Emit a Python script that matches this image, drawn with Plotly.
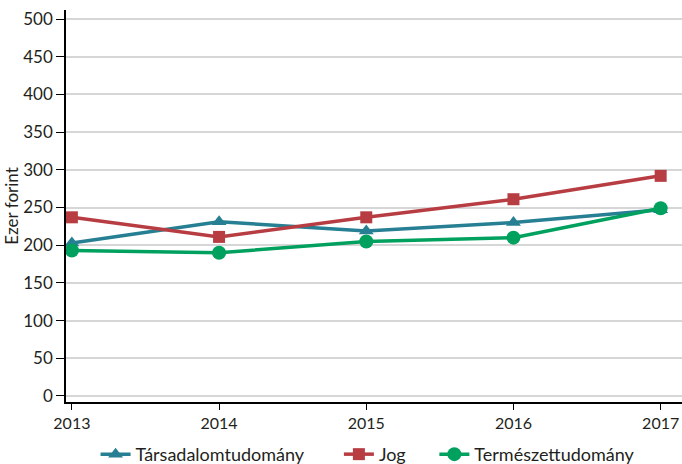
import plotly.graph_objects as go

years = [2013, 2014, 2015, 2016, 2017]
tarsadalom = [203, 231, 219, 230, 247]
jog = [237, 211, 237, 261, 292]
termeszet = [193, 190, 205, 210, 249]

series = [
    ("Társadalomtudomány", tarsadalom, "#267f92", "triangle-up", 13),
    ("Jog", jog, "#b73d43", "square", 12),
    ("Természettudomány", termeszet, "#00a05e", "circle", 14),
]

# each series gets its own legend box so the entries can be spaced freely
legend_ids = ["legend", "legend2", "legend3"]
legend_x = [0.048, 0.443, 0.598]

fig = go.Figure()
for (name, vals, color, symbol, size), lid in zip(series, legend_ids):
    fig.add_trace(go.Scatter(
        x=years, y=vals, name=name, mode="lines+markers",
        line=dict(color=color, width=3.5),
        marker=dict(symbol=symbol, size=size, color=color),
        legend=lid,
    ))

font_family = "Lato"
legend_common = dict(orientation="h", xanchor="left", y=-0.181, yanchor="bottom",
                     font=dict(size=18), bgcolor="rgba(0,0,0,0)")
fig.update_layout(
    width=682, height=464,
    margin=dict(l=66, r=0, t=10, b=62, autoexpand=False),
    plot_bgcolor="white", paper_bgcolor="white",
    font=dict(family=font_family, color="#231f20", size=16),
    showlegend=True,
    legend=dict(x=legend_x[0], **legend_common),
    legend2=dict(x=legend_x[1], **legend_common),
    legend3=dict(x=legend_x[2], **legend_common),
    xaxis=dict(
        range=[2012.96, 2017.145], tickvals=years, ticktext=[str(y) for y in years],
        showgrid=False, showline=True, linecolor="black", linewidth=1.5,
        ticks="outside", ticklen=6, tickcolor="black", tickfont=dict(size=16),
        zeroline=False,
    ),
    yaxis=dict(
        range=[-8, 512], tickvals=list(range(0, 501, 50)),
        showgrid=True, gridcolor="#d6d6d6", gridwidth=1.5,
        showline=True, linecolor="black", linewidth=1.5,
        ticks="outside", ticklen=8, tickcolor="black", tickfont=dict(size=17),
        zeroline=False,
        title=dict(text="Ezer forint", font=dict(size=17), standoff=0),
    ),
)

fig.write_html("out.html")
